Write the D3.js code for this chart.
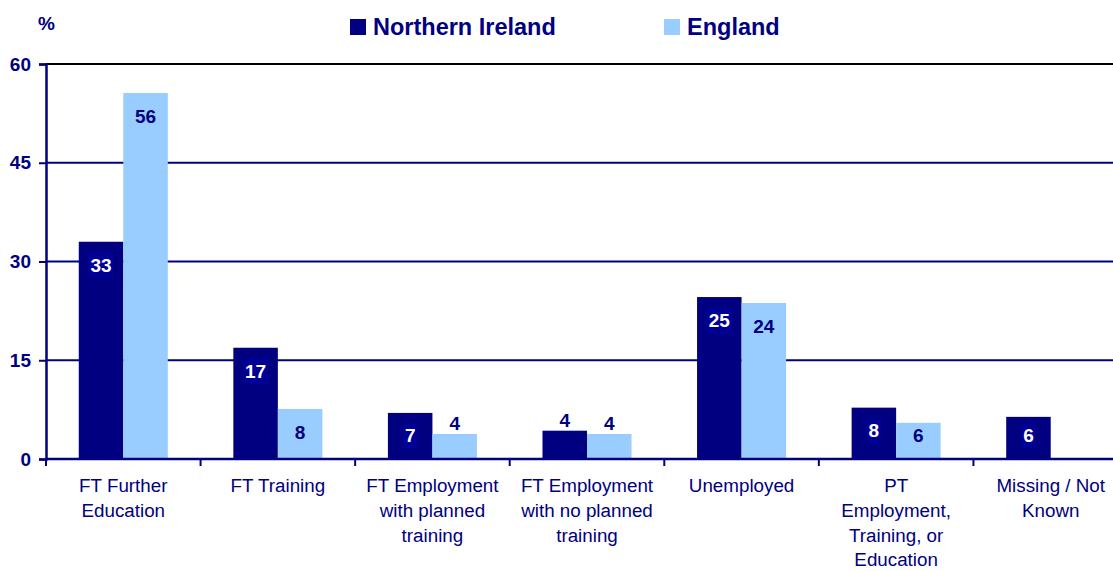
<!DOCTYPE html>
<html>
<head>
<meta charset="utf-8">
<script src="https://cdn.jsdelivr.net/npm/d3@7"></script>
<style>
  body { margin: 0; background: #fff; }
  svg { display: block; font-family: "Liberation Sans", Arial, sans-serif; }
</style>
</head>
<body>
<svg id="chart" width="1113" height="571"></svg>
<script>
var categories = [
    ['FT Further', 'Education'],
    ['FT Training'],
    ['FT Employment', 'with planned', 'training'],
    ['FT Employment', 'with no planned', 'training'],
    ['Unemployed'],
    ['PT', 'Employment,', 'Training, or', 'Education'],
    ['Missing / Not', 'Known']
];
var seriesNames = ['Northern Ireland', 'England'];
var northernIreland = [33.0, 16.9, 7.0, 4.3, 24.6, 7.8, 6.4];
var england = [55.6, 7.6, 3.8, 3.8, 23.7, 5.5, null];
var yTicks = [0, 15, 30, 45, 60];

(function () {
    var navy = '#000080';
    var light = '#99ccff';
    var colors = [navy, light];

    var options = { left: 46, right: 1128, top: 64, bottom: 459 };

    var svg = d3.select('#chart');

    var x = d3.scaleBand()
        .domain(d3.range(categories.length))
        .range([options.left, options.right])
        .paddingInner(0)
        .paddingOuter(0);

    var inner = d3.scaleBand()
        .domain([0, 1])
        .range([0, x.bandwidth() * 0.576]);

    var y = d3.scaleLinear()
        .domain([0, 60])
        .range([options.bottom, options.top]);

    // gridlines
    svg.append('g').selectAll('line')
        .data(yTicks.filter(function (t) { return t > 0; }))
        .join('line')
        .attr('x1', options.left)
        .attr('x2', options.right)
        .attr('y1', function (d) { return y(d); })
        .attr('y2', function (d) { return y(d); })
        .attr('stroke', function (d) { return d === 60 ? '#000000' : navy; })
        .attr('stroke-width', 2);

    // bars
    var rows = categories.map(function (c, i) {
        return [northernIreland[i], england[i]];
    });

    var offset = (x.bandwidth() - x.bandwidth() * 0.576) / 2;

    var groups = svg.append('g').selectAll('g')
        .data(rows)
        .join('g')
        .attr('transform', function (d, i) { return 'translate(' + (x(i) + offset) + ',0)'; });

    groups.selectAll('rect')
        .data(function (d) { return d.map(function (v, s) { return { v: v, s: s }; }); })
        .join('rect')
        .filter(function (d) { return d.v != null; })
        .attr('x', function (d) { return inner(d.s); })
        .attr('y', function (d) { return y(d.v); })
        .attr('width', inner.bandwidth())
        .attr('height', function (d) { return options.bottom - y(d.v); })
        .attr('fill', function (d) { return colors[d.s]; });

    // value labels
    groups.each(function (row) {
        var g = d3.select(this);
        row.forEach(function (v, s) {
            if (v == null) return;
            var top = y(v);
            var h = options.bottom - top;
            var cy = h > 30 ? Math.min(top + 23, options.bottom - 24) : top - 11;
            var cx = inner(s) + inner.bandwidth() / 2;
            var txt = String(Math.round(v));
            if (s === 0 && h > 30) {
                var w = txt.length * 11 + 3;
                g.append('rect')
                    .attr('x', cx - w / 2)
                    .attr('y', cy - 12)
                    .attr('width', w)
                    .attr('height', 25)
                    .attr('fill', '#000096');
            }
            g.append('text')
                .attr('x', cx)
                .attr('y', cy)
                .attr('dy', '0.36em')
                .attr('text-anchor', 'middle')
                .attr('font-size', 19)
                .attr('font-weight', 'bold')
                .attr('fill', s === 0 && h > 30 ? '#ffffff' : navy)
                .text(txt);
        });
    });

    // y axis
    var yAxis = svg.append('g')
        .attr('transform', 'translate(' + options.left + ',0)')
        .call(d3.axisLeft(y).tickValues(yTicks).tickSize(7).tickPadding(8));
    yAxis.select('.domain').attr('stroke', navy).attr('stroke-width', 2.5);
    yAxis.selectAll('.tick line').attr('stroke', navy).attr('stroke-width', 2);
    yAxis.selectAll('.tick text')
        .attr('fill', navy)
        .attr('font-size', 19)
        .attr('font-weight', 'bold')
        .attr('font-family', '"Liberation Sans", Arial, sans-serif');

    // x axis
    svg.append('line')
        .attr('x1', options.left)
        .attr('x2', options.right)
        .attr('y1', options.bottom)
        .attr('y2', options.bottom)
        .attr('stroke', navy)
        .attr('stroke-width', 2.5);

    svg.append('g').selectAll('line')
        .data(d3.range(categories.length + 1))
        .join('line')
        .attr('x1', function (i) { return options.left + i * x.bandwidth(); })
        .attr('x2', function (i) { return options.left + i * x.bandwidth(); })
        .attr('y1', options.bottom)
        .attr('y2', options.bottom + 7)
        .attr('stroke', navy)
        .attr('stroke-width', 2);

    svg.append('g').selectAll('text')
        .data(categories)
        .join('text')
        .attr('x', function (d, i) { return x(i) + x.bandwidth() / 2; })
        .attr('y', 492)
        .attr('text-anchor', 'middle')
        .attr('font-size', 18.8)
        .attr('fill', navy)
        .each(function (lines) {
            var t = d3.select(this);
            lines.forEach(function (line, k) {
                t.append('tspan')
                    .attr('x', t.attr('x'))
                    .attr('dy', k === 0 ? 0 : 24.8)
                    .text(line);
            });
        });

    // unit label
    svg.append('text')
        .attr('x', 38)
        .attr('y', 30)
        .attr('font-size', 19)
        .attr('font-weight', 'bold')
        .attr('fill', navy)
        .text('%');

    // legend
    var legendX = [350, 664];
    seriesNames.forEach(function (name, s) {
        svg.append('rect')
            .attr('x', legendX[s])
            .attr('y', 19)
            .attr('width', 16)
            .attr('height', 16)
            .attr('fill', colors[s]);
        svg.append('text')
            .attr('x', legendX[s] + 23)
            .attr('y', 35)
            .attr('font-size', 23.5)
            .attr('font-weight', 'bold')
            .attr('fill', navy)
            .text(name);
    });
})();
</script>
</body>
</html>
